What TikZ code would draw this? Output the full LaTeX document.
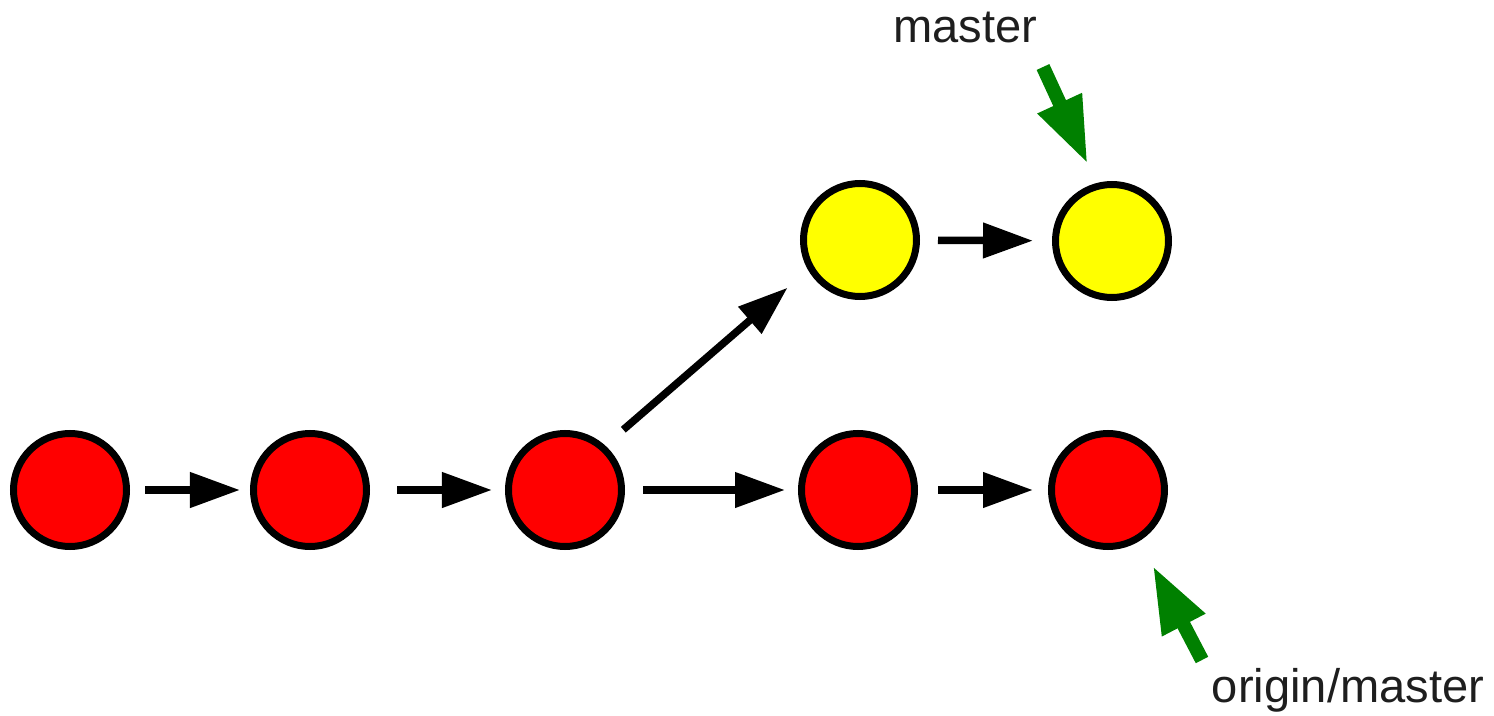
\documentclass[tikz,border=0pt]{standalone}
\usepackage{fontspec}
\setmainfont{Liberation Sans}
\usetikzlibrary{arrows.meta}
\definecolor{CommitRed}{RGB}{255, 0, 0}
\definecolor{CommitYellow}{RGB}{255, 255, 0}
\definecolor{RefGreen}{RGB}{0, 128, 0}
\definecolor{LabelGray}{RGB}{30, 30, 30}

\begin{document}
\begin{tikzpicture}[
  commit/.style={circle, draw=black, line width=0.07cm, inner sep=0pt,
                 minimum size=1.13cm},
  local/.style={commit, fill=CommitRed},
  ahead/.style={commit, fill=CommitYellow},
  link/.style={-{Triangle[length=0.5cm, width=0.34cm]}, line width=0.075cm,
               shorten <=0.18cm, shorten >=0.13cm},
  ref/.style={-{Triangle[length=0.67cm, width=0.45cm]}, line width=0.14cm,
              draw=RefGreen},
  reflabel/.style={anchor=base, text=LabelGray,
                   font=\fontsize{13.4}{16}\selectfont}
]
  \useasboundingbox (0,0) rectangle (14.94,7.15);

  %% Commits
  \node[local] (c1) at (0.70, 2.25) {};
  \node[local] (c2) at (3.10, 2.25) {};
  \node[local] (c3) at (5.65, 2.25) {};
  \node[local] (c4) at (8.58, 2.25) {};
  \node[local] (c5) at (11.08,2.25) {};
  \node[ahead] (y1) at (8.60, 4.75) {};
  \node[ahead] (y2) at (11.12,4.74) {};

  %% Parent links
  \draw[link, shorten <=0.15cm, shorten >=0.10cm] (c1) -- (c2);
  \draw[link, shorten <=0.27cm] (c2) -- (c3);
  \draw[link] (c3) -- (c4);
  \draw[link, shorten <=0.20cm, shorten >=0.15cm] (c4) -- (c5);
  \draw[link, shorten >=0.19cm] (y1) -- (y2);
  \draw[link, shorten <=0.24cm, shorten >=0.27cm] (c3.48) -- (y1.210);

  %% Branch labels
  \node[reflabel] (master) at (9.65, 6.73) {master};
  \node[reflabel] (origin) at (13.48,0.13) {origin/master};
  \coordinate (mtail) at (10.43, 6.48);
  \coordinate (otail) at (12.02, 0.55);
  \draw[ref, shorten >=0.21cm] (mtail) -- (y2.105);
  \draw[ref, shorten >=0.28cm] (otail) -- (c5.-58);
\end{tikzpicture}
\end{document}
